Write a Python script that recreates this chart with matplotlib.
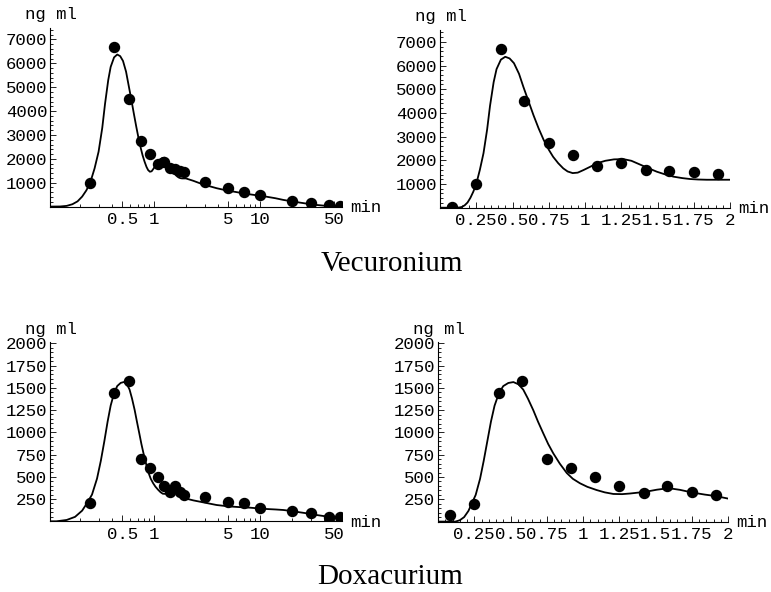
import numpy as np
import matplotlib.pyplot as plt
from matplotlib.ticker import FixedLocator, NullFormatter, LogLocator, MultipleLocator

# Sampling times (min) and measured concentrations (ng/ml)
sample_t = [0.083, 0.25, 0.42, 0.58, 0.75, 0.92, 1.08, 1.25, 1.42, 1.58, 1.75, 1.92,
            3, 5, 7, 10, 20, 30, 45, 57]
vec_obs = [20, 1000, 6700, 4500, 2750, 2220, 1780, 1870, 1610, 1560, 1490, 1430,
           1040, 790, 620, 470, 235, 150, 80, 40]
dox_obs = [70, 200, 1440, 1580, 705, 600, 495, 395, 325, 400, 330, 300,
           276, 213, 202, 146, 116, 90, 52, 45]

# Fitted curves
vec_fit_t = [0.0, 0.10, 0.13, 0.15, 0.17, 0.19, 0.21, 0.23, 0.25, 0.275, 0.30, 0.325,
             0.345, 0.37, 0.39, 0.42, 0.45, 0.48, 0.51, 0.545, 0.575, 0.61, 0.645, 0.68,
             0.715, 0.75, 0.78, 0.815, 0.85, 0.88, 0.915, 0.95, 0.99, 1.04, 1.08, 1.14,
             1.2, 1.265, 1.32, 1.38, 1.44, 1.495, 1.55, 1.61, 1.67, 1.725, 1.78, 1.84,
             1.92, 2.0, 2.35, 2.7, 3.3, 3.9, 4.7, 5.6, 6.7, 8.0, 9.6, 11.5, 14, 16.6,
             20, 24, 29, 34, 41, 49, 60]
vec_fit_c = [0, 0, 5, 30, 100, 220, 420, 680, 1000, 1600, 2300, 3300,
             4300, 5300, 5850, 6250, 6370, 6300, 6100, 5650, 5100, 4500, 3900, 3350,
             2860, 2450, 2150, 1880, 1660, 1530, 1460, 1480, 1590, 1740, 1870, 1980,
             2040, 2050, 1980, 1820, 1660, 1520, 1410, 1310, 1250, 1210, 1190, 1180,
             1180, 1180, 1080, 980, 860, 770, 690, 630, 570, 515, 465, 415, 350, 280,
             220, 165, 110, 70, 35, 10, 0]
dox_fit_t = [0.0, 0.12, 0.15, 0.18, 0.21, 0.235, 0.26, 0.29, 0.315, 0.34, 0.365, 0.39,
             0.42, 0.45, 0.485, 0.52, 0.555, 0.588, 0.62, 0.657, 0.69, 0.726, 0.76,
             0.795, 0.84, 0.888, 0.93, 0.979, 1.03, 1.094, 1.15, 1.209, 1.27, 1.324,
             1.38, 1.44, 1.51, 1.577, 1.62, 1.669, 1.72, 1.784, 1.84, 1.899, 1.95, 2.01,
             2.35, 2.72, 3.3, 3.9, 4.7, 5.6, 6.7, 8.05, 9.7, 11.6, 14, 16.6, 20, 23.8,
             29, 34, 41, 49, 60]
dox_fit_c = [0, 0, 15, 50, 120, 210, 300, 480, 680, 900, 1120, 1300,
             1440, 1520, 1555, 1565, 1540, 1480, 1380, 1250, 1120, 990, 870,
             766, 650, 545, 480, 430, 390, 354, 328, 310, 308, 315,
             325, 337, 358, 372, 368, 356, 338, 318, 303, 290, 275, 255,
             235, 220, 200, 183, 172, 164, 158, 153, 145, 138, 133, 127, 115, 101,
             86, 71, 57, 45, 34]

log_ticks = [0.5, 1, 5, 10, 50]
log_labels = ['0.5', '1', '5', '10', '50']
lin_ticks = [0.25, 0.5, 0.75, 1, 1.25, 1.5, 1.75, 2]
lin_labels = ['0.25', '0.5', '0.75', '1', '1.25', '1.5', '1.75', '2']
vec_yticks = [1000, 2000, 3000, 4000, 5000, 6000, 7000]
dox_yticks = [250, 500, 750, 1000, 1250, 1500, 1750, 2000]

W, H = 771, 592
mono = 'Liberation Mono'
fig = plt.figure(figsize=(W / 100, H / 100), dpi=100)


def px_axes(x0, x1, y_bottom, y_top):
    return fig.add_axes([x0 / W, 1 - y_bottom / H, (x1 - x0) / W, (y_bottom - y_top) / H])


def style(ax, yticks, ymax, yminor):
    for s in ['top', 'right']:
        ax.spines[s].set_visible(False)
    for s in ['left', 'bottom']:
        ax.spines[s].set_linewidth(0.8)
    ax.set_ylim(0, ymax)
    ax.yaxis.set_major_locator(FixedLocator(yticks))
    ax.set_yticklabels([str(v) for v in yticks])
    ax.yaxis.set_minor_locator(MultipleLocator(yminor))
    ax.tick_params(which='both', direction='in', width=0.6, labelsize=12.5)
    ax.tick_params(which='major', length=4)
    ax.tick_params(which='minor', length=2)
    ax.tick_params(axis='y', pad=2)
    ax.tick_params(axis='x', pad=4)
    for lab in ax.get_xticklabels() + ax.get_yticklabels():
        lab.set_family(mono)


panels = [
    (50, 342, 206.6, 28, 'log', vec_fit_t, vec_fit_c, vec_obs, vec_yticks, 7480, 200),
    (440, 730, 207.7, 30, 'lin', vec_fit_t, vec_fit_c, vec_obs, vec_yticks, 7500, 200),
    (50, 342, 521.3, 342.4, 'log', dox_fit_t, dox_fit_c, dox_obs, dox_yticks, 2010, 50),
    (438, 728, 521.6, 342.4, 'lin', dox_fit_t, dox_fit_c, dox_obs, dox_yticks, 2010, 50),
]

for x0, x1, yb, yt, kind, ft, fc, obs, yticks, ymax, yminor in panels:
    ax = px_axes(x0, x1, yb, yt)
    ax.plot(ft, fc, color='black', lw=1.3)
    ax.plot(sample_t, obs, 'o', color='black', ms=7.2)
    if kind == 'log':
        ax.set_xscale('log')
        ax.set_xlim(0.1044, 59.4)
        ax.xaxis.set_major_locator(FixedLocator(log_ticks))
        ax.xaxis.set_minor_locator(LogLocator(base=10, subs=np.arange(2, 10)))
        ax.xaxis.set_minor_formatter(NullFormatter())
        ax.set_xticklabels(log_labels)
    else:
        ax.set_xlim(0, 2)
        ax.xaxis.set_major_locator(FixedLocator(lin_ticks))
        ax.xaxis.set_minor_locator(MultipleLocator(0.05))
        ax.set_xticklabels(lin_labels)
    style(ax, yticks, ymax, yminor)
    # axis captions
    fig.text((x0 + 1) / W, 1 - (yt - 13) / H, 'ng ml', family=mono, fontsize=12.5,
             ha='center', va='center')
    fig.text((x1 + 8) / W, 1 - (yb + 1) / H, 'min', family=mono, fontsize=12.5,
             ha='left', va='center')

fig.text(392 / W, 1 - 264 / H, 'Vecuronium', family='Liberation Serif', fontsize=21,
         ha='center', va='center')
fig.text(390 / W, 1 - 577 / H, 'Doxacurium', family='Liberation Serif', fontsize=21,
         ha='center', va='center')

fig.savefig('out.png', dpi=100)
